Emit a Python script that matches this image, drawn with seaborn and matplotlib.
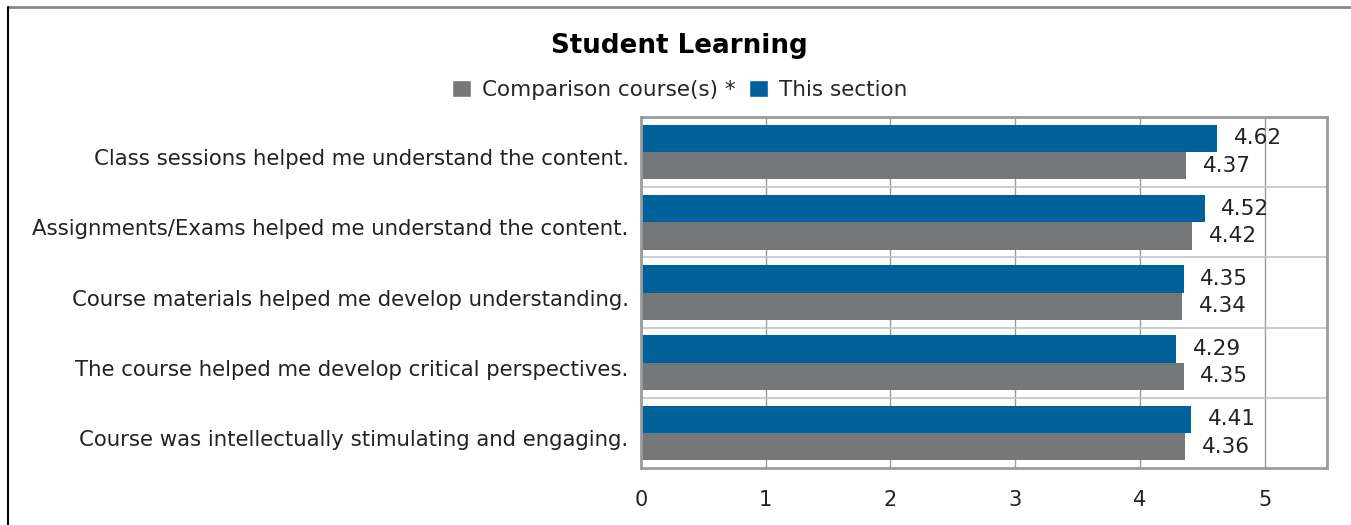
import pandas as pd
import matplotlib.pyplot as plt
import matplotlib.transforms as mtransforms
import seaborn as sns
from matplotlib.lines import Line2D
from matplotlib.patches import Patch

# chart data
questions = [
    "Class sessions helped me understand the content.",
    "Assignments/Exams helped me understand the content.",
    "Course materials helped me develop understanding.",
    "The course helped me develop critical perspectives.",
    "Course was intellectually stimulating and engaging.",
]
this_section = [4.62, 4.52, 4.35, 4.29, 4.41]
comparison = [4.37, 4.42, 4.34, 4.35, 4.36]
series_names = ["Comparison course(s) *", "This section"]
x_ticks = [0, 1, 2, 3, 4, 5]

BLUE = "#00629b"
GRAY = "#767778"

sns.set_theme(style="white")
plt.rcParams['font.family'] = ['DejaVu Sans']

def main():
    df = pd.DataFrame({
        "question": questions * 2,
        "score": this_section + comparison,
        "series": [series_names[1]] * len(questions) + [series_names[0]] * len(questions),
    })

    fig = plt.figure(figsize=(13.51, 5.25), dpi=100)
    ax = fig.add_axes([0.4745, 0.1086, 0.5077, 0.6685])

    sns.barplot(data=df, y="question", x="score", hue="series",
                hue_order=[series_names[1], series_names[0]],
                palette={series_names[1]: BLUE, series_names[0]: GRAY},
                orient="h", width=0.78, gap=0, saturation=1, linewidth=0,
                legend=False, ax=ax)

    for cont in ax.containers:
        ax.bar_label(cont, fmt="%.2f", padding=12, fontsize=15.5, color="#222222")

    ax.set_xlim(0, 5.5)
    ax.set_xticks(x_ticks)
    ax.set_xticklabels([str(t) for t in x_ticks], fontsize=15, color="#222222")
    ax.set_ylim(len(questions) - 0.5, -0.5)
    ax.set_yticks(range(len(questions)))
    ax.set_yticklabels(questions, fontsize=15.3, color="#222222")
    ax.set_yticks([i + 0.5 for i in range(len(questions) - 1)], minor=True)
    ax.tick_params(axis="x", length=0, pad=16)
    ax.tick_params(axis="y", which="both", length=0, pad=9)
    ax.set_xlabel("")
    ax.set_ylabel("")

    # category labels sit a little below the band centre in the original
    shift = mtransforms.ScaledTranslation(0, -5 / 100, fig.dpi_scale_trans)
    for lbl in ax.get_yticklabels():
        lbl.set_transform(lbl.get_transform() + shift)

    ax.grid(axis="x", color="#9a9a9a", linewidth=1)
    ax.grid(axis="y", which="minor", color="#c4c4c4", linewidth=1.2)
    ax.set_axisbelow(True)
    for side in ["top", "bottom", "left", "right"]:
        ax.spines[side].set_visible(True)
        ax.spines[side].set_color("#9b9b9b")
        ax.spines[side].set_linewidth(2)

    fig.text(0.503, 0.913, "Student Learning", ha="center", va="center",
             fontsize=18.8, fontweight="bold", color="black")

    handles = [Patch(facecolor=GRAY), Patch(facecolor=BLUE)]
    fig.legend(handles, series_names, loc="center", bbox_to_anchor=(0.503, 0.829),
               ncol=2, frameon=False, fontsize=15.5, handlelength=0.9,
               handleheight=0.9, handletextpad=0.5, columnspacing=0.6)

    # outer frame of the original panel
    fig.add_artist(Line2D([0.006, 1.0], [0.987, 0.987], color="#888888", linewidth=2,
                          transform=fig.transFigure))
    fig.add_artist(Line2D([0.006, 0.006], [0.0, 0.987], color="black", linewidth=1.5,
                          transform=fig.transFigure))

    fig.savefig("out.png", dpi=100)
    plt.close(fig)

if __name__ == "__main__":
    main()
